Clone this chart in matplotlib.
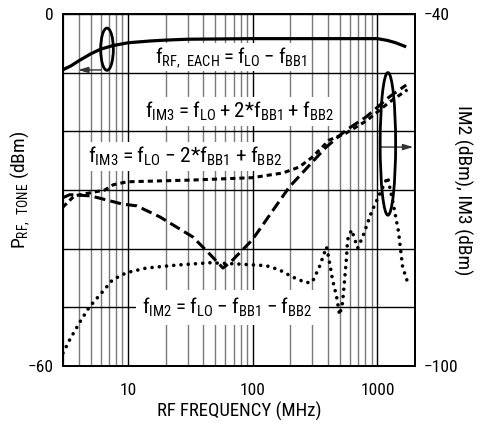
import matplotlib
matplotlib.use('Agg')
import matplotlib.pyplot as plt
from matplotlib import font_manager as fm
from matplotlib.patches import Ellipse
from matplotlib.ticker import LogLocator, FixedLocator, FixedFormatter, NullFormatter

# ---------------- data ----------------
# RF tone power (left axis, dBm)
freq_rf = [3, 3.5, 4, 5, 6, 7.5, 10, 15, 20, 30, 100, 300, 1000, 1200, 1400, 1700]
p_rf = [-9.5, -8.8, -8.0, -6.8, -6.0, -5.4, -4.9, -4.6, -4.45, -4.3, -4.2, -4.2, -4.2, -4.5, -4.9, -5.6]

# IM3 = fLO + 2*fBB1 + fBB2 (right axis, dBm)
freq_im3p = [3, 3.4, 5, 7, 9, 11.7, 18, 33, 45, 57.6, 67, 99, 196, 387, 560, 816, 1250, 1700]
im3p = [-71.3, -70.8, -71.0, -71.8, -72.4, -72.7, -74.6, -78.0, -80.9, -83.3, -82.2, -78.5,
        -69.5, -62.7, -59.8, -57.5, -54.1, -52.1]

# IM3 = fLO - 2*fBB1 + fBB2 (right axis, dBm)
freq_im3m = [3, 3.7, 4.9, 6.5, 7.6, 9.8, 33, 99, 174, 235, 300, 409, 560, 816, 1250, 1740]
im3m = [-72.9, -71.0, -70.5, -70.0, -69.1, -68.6, -68.3, -67.9, -67.1, -66.1, -64.4, -61.5,
        -60.3, -58.2, -55.0, -52.9]

# IM2 = fLO - fBB1 - fBB2 (right axis, dBm)
freq_im2 = [3.0, 3.4, 4.1, 4.9, 6.2, 7.5, 9.7, 14, 24.5, 45, 74, 128, 163, 207, 267, 300, 342,
            390, 409, 436, 470, 497, 525, 545, 565, 575, 620, 694, 760, 898, 1078, 1205, 1320,
            1475, 1590, 1780]
im2 = [-97.8, -95.5, -92.5, -89.9, -87.4, -85.3, -84.1, -83.3, -82.8, -82.4, -82.6, -82.9, -83.6,
       -84.8, -85.8, -85.7, -83.1, -79.7, -81.9, -85.3, -88.2, -91.3, -89.2, -85.3, -81.4, -78.5,
       -76.8, -79.9, -78.0, -73.7, -70.0, -67.8, -71.7, -77.1, -83.1, -86.3]

x_ticks = [10, 100, 1000]
x_tick_labels = ['10', '100', '1000']
left_ticks = [-60, -50, -40, -30, -20, -10, 0]
left_tick_labels = ['\u221260', '', '', '', '', '', '0']
right_ticks = [-100, -90, -80, -70, -60, -50, -40]
right_tick_labels = ['\u2212100', '', '', '', '', '', '\u221240']

# ---------------- font choice (prefer a condensed sans) ----------------
ttf = fm.fontManager.ttflist
names = {f.name for f in ttf}
family, stretch = 'Liberation Sans', 'normal'
chosen = False
for n in ['Liberation Sans Narrow', 'Arial Narrow', 'Roboto Condensed', 'Open Sans Condensed',
          'Noto Sans Condensed', 'DejaVu Sans Condensed']:
    if n in names:
        family, chosen = n, True
        break
if not chosen:
    for n in ['Noto Sans', 'Roboto', 'Open Sans', 'DejaVu Sans']:
        for f in ttf:
            if (f.name == n and f.style == 'normal' and str(f.stretch) in ('condensed', 'semi-condensed')
                    and f.weight in (400, 'normal', 'regular', 'book')):
                family, stretch, chosen = n, str(f.stretch), True
                break
        if chosen:
            break
plt.rcParams['font.family'] = [family, 'Liberation Sans', 'DejaVu Sans']
plt.rcParams['font.stretch'] = stretch

# ---------------- figure ----------------
fig = plt.figure(figsize=(4.8, 4.22), dpi=100)
ax = fig.add_axes([63 / 480, 1 - 366 / 422, 352 / 480, 352 / 422])
ax.set_xscale('log')
ax.set_xlim(3, 2000)
ax.set_ylim(-60, 0)

ax.xaxis.set_major_locator(FixedLocator(x_ticks))
ax.xaxis.set_major_formatter(FixedFormatter(x_tick_labels))
ax.xaxis.set_minor_locator(LogLocator(base=10, subs=range(2, 10)))
ax.xaxis.set_minor_formatter(NullFormatter())
ax.yaxis.set_major_locator(FixedLocator(left_ticks))
ax.yaxis.set_major_formatter(FixedFormatter(left_tick_labels))

ax.set_axisbelow(True)
ax.grid(which='major', axis='x', color='black', lw=1.0)
ax.grid(which='minor', axis='x', color='#7a7a7a', lw=1.0)
ax.grid(which='major', axis='y', color='black', lw=1.0)
ax.tick_params(which='both', length=0, labelsize=12.5)
ax.tick_params(axis='x', pad=12)
ax.tick_params(axis='y', pad=7)
for s in ax.spines.values():
    s.set_linewidth(1.4)

ax2 = ax.twinx()
ax2.set_ylim(-100, -40)
ax2.yaxis.set_major_locator(FixedLocator(right_ticks))
ax2.yaxis.set_major_formatter(FixedFormatter(right_tick_labels))
ax2.tick_params(which='both', length=0, labelsize=12.5, pad=6)
for s in ax2.spines.values():
    s.set_linewidth(1.4)

# text labels (white boxes mask the grid)
renderer = fig.canvas.get_renderer()
labels = [
    (r'$\mathregular{f_{RF,\ EACH} = f_{LO} - f_{BB1}}$', 0.261, 0.864, 152, 0.12),
    (r'$\mathregular{f_{IM3} = f_{LO} + 2{*}f_{BB1} + f_{BB2}}$', 0.233, 0.705, 188, 0.15),
    (r'$\mathregular{f_{IM3} = f_{LO} - 2{*}f_{BB1} + f_{BB2}}$', 0.071, 0.577, 194, 0.15),
    (r'$\mathregular{f_{IM2} = f_{LO} - f_{BB1} - f_{BB2}}$', 0.224, 0.148, 170, 0.3),
]
for txt, x, y, target_w, pad in labels:
    t = ax.text(x, y, txt, transform=ax.transAxes, fontsize=18, ha='left', va='baseline', zorder=2,
                bbox=dict(boxstyle='square,pad=%.2f' % pad, facecolor='white', edgecolor='none'))
    w = t.get_window_extent(renderer).width
    t.set_fontsize(max(11.5, min(19, 18 * target_w / w)))

# curves
ax.plot(freq_rf, p_rf, color='black', lw=2.3, zorder=5, solid_capstyle='butt')
ax2.plot(freq_im3p, im3p, color='black', lw=2.2, dashes=(3.6, 1.7), zorder=4)
ax2.plot(freq_im3m, im3m, color='black', lw=2.2, dashes=(1.7, 1.3), zorder=4)
ax2.plot(freq_im2, im2, color='black', lw=2.6, dashes=(0.01, 2.0), dash_capstyle='round', zorder=4)

# ellipses and arrows
ax2.add_patch(Ellipse((0.125, 0.90), 0.036, 0.12, transform=ax.transAxes, fill=False,
                      edgecolor='black', lw=2.0, zorder=6))
ax2.add_patch(Ellipse((0.923, 0.631), 0.044, 0.405, transform=ax.transAxes, fill=False,
                      edgecolor='black', lw=2.0, zorder=6))
ax2.annotate('', xy=(0.043, 0.841), xytext=(0.108, 0.841), xycoords='axes fraction',
             arrowprops=dict(arrowstyle='-|>,head_length=0.6,head_width=0.18', color='#333333',
                             lw=1.0, shrinkA=0, shrinkB=0))
ax2.annotate('', xy=(0.995, 0.622), xytext=(0.90, 0.622), xycoords='axes fraction',
             arrowprops=dict(arrowstyle='-|>,head_length=0.6,head_width=0.18', color='#333333',
                             lw=1.0, shrinkA=0, shrinkB=0))

# axis titles
xl = ax.set_xlabel('RF FREQUENCY (MHz)', fontsize=12.5)
xl.set_va('center')
ax.xaxis.set_label_coords(0.5, -0.128)
w = xl.get_window_extent(renderer).width
xl.set_fontsize(max(10.5, min(13.5, 12.5 * 167 / w)))

yl = ax.set_ylabel(r'$\mathregular{P_{RF,\ TONE}}$ (dBm)', fontsize=14)
yl.set_va('center')
yl.set_ha('center')
ax.yaxis.set_label_coords(-0.122, 0.5)

yr = ax2.set_ylabel('IM2 (dBm), IM3 (dBm)', fontsize=14)
yr.set_rotation(270)
yr.set_va('center')
yr.set_ha('center')
ax2.yaxis.set_label_coords(1.134, 0.5)

fig.savefig('out.png', dpi=100)
